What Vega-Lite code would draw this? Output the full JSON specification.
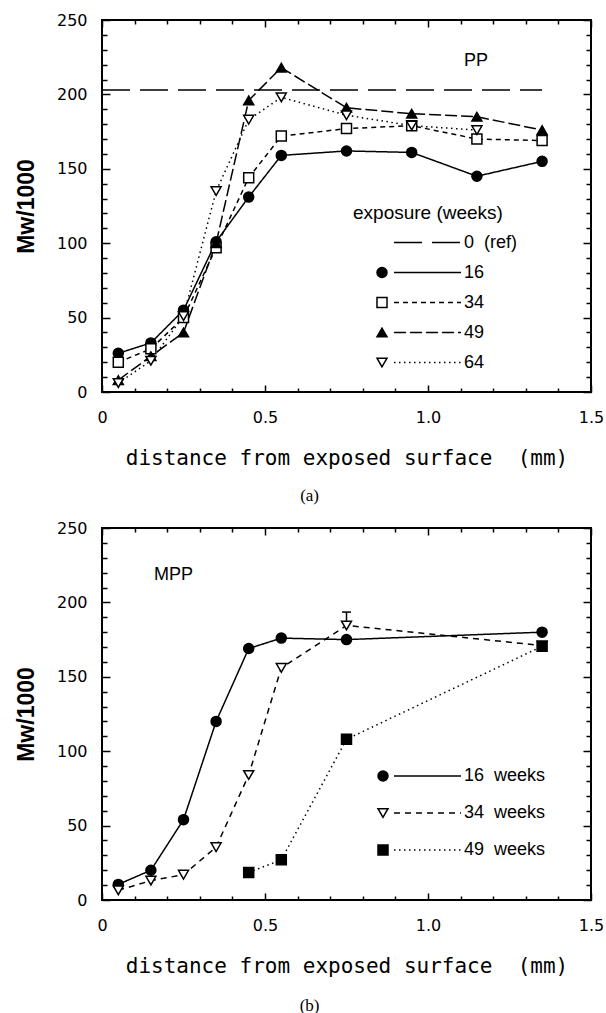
{
  "$schema": "https://vega.github.io/schema/vega-lite/v6.json",
  "padding": {"left": 14, "top": 11, "right": 0, "bottom": 0},
  "spacing": 15,
  "background": "white",
  "resolve": {"scale": {"shape": "independent", "fill": "independent", "strokeDash": "independent"}},
  "config": {
    "view": {"stroke": "black", "strokeWidth": 2},
    "axis": {"labelFont": "DejaVu Sans", "labelFontSize": 16, "labelColor": "black", "tickColor": "black", "tickWidth": 1.5, "domain": false, "grid": false, "titleColor": "black", "labelFlush": false, "labelOverlap": false, "labelBound": false},
    "legend": {"labelColor": "black", "titleColor": "black"},
    "line": {"color": "black", "strokeWidth": 1.5},
    "title": {"color": "black", "fontWeight": "normal"}
  },
  "datasets": {
    "a": [
      {"series": "0 (ref)", "x": 0, "y": 203},
      {"series": "0 (ref)", "x": 1.35, "y": 203},
      {"series": "16", "x": 0.05, "y": 26},
      {"series": "16", "x": 0.15, "y": 33},
      {"series": "16", "x": 0.25, "y": 55},
      {"series": "16", "x": 0.35, "y": 101},
      {"series": "16", "x": 0.45, "y": 131},
      {"series": "16", "x": 0.55, "y": 159},
      {"series": "16", "x": 0.75, "y": 162},
      {"series": "16", "x": 0.95, "y": 161},
      {"series": "16", "x": 1.15, "y": 145},
      {"series": "16", "x": 1.35, "y": 155},
      {"series": "34", "x": 0.05, "y": 20},
      {"series": "34", "x": 0.15, "y": 29},
      {"series": "34", "x": 0.25, "y": 50},
      {"series": "34", "x": 0.35, "y": 97},
      {"series": "34", "x": 0.45, "y": 144},
      {"series": "34", "x": 0.55, "y": 172},
      {"series": "34", "x": 0.75, "y": 177},
      {"series": "34", "x": 0.95, "y": 179},
      {"series": "34", "x": 1.15, "y": 170},
      {"series": "34", "x": 1.35, "y": 169},
      {"series": "49", "x": 0.05, "y": 8},
      {"series": "49", "x": 0.15, "y": 24},
      {"series": "49", "x": 0.25, "y": 40},
      {"series": "49", "x": 0.35, "y": 100},
      {"series": "49", "x": 0.45, "y": 196},
      {"series": "49", "x": 0.55, "y": 218},
      {"series": "49", "x": 0.75, "y": 191},
      {"series": "49", "x": 0.95, "y": 187},
      {"series": "49", "x": 1.15, "y": 185},
      {"series": "49", "x": 1.35, "y": 176},
      {"series": "64", "x": 0.05, "y": 6},
      {"series": "64", "x": 0.15, "y": 21},
      {"series": "64", "x": 0.25, "y": 51},
      {"series": "64", "x": 0.35, "y": 135},
      {"series": "64", "x": 0.45, "y": 183},
      {"series": "64", "x": 0.55, "y": 198},
      {"series": "64", "x": 0.75, "y": 186},
      {"series": "64", "x": 0.95, "y": 179},
      {"series": "64", "x": 1.15, "y": 176}
    ],
    "b": [
      {"series": "16 weeks", "x": 0.05, "y": 10.5},
      {"series": "16 weeks", "x": 0.15, "y": 20},
      {"series": "16 weeks", "x": 0.25, "y": 54},
      {"series": "16 weeks", "x": 0.35, "y": 120},
      {"series": "16 weeks", "x": 0.45, "y": 169},
      {"series": "16 weeks", "x": 0.55, "y": 176},
      {"series": "16 weeks", "x": 0.75, "y": 175},
      {"series": "16 weeks", "x": 1.35, "y": 180},
      {"series": "34 weeks", "x": 0.05, "y": 6.5},
      {"series": "34 weeks", "x": 0.15, "y": 13},
      {"series": "34 weeks", "x": 0.25, "y": 17},
      {"series": "34 weeks", "x": 0.35, "y": 35.5},
      {"series": "34 weeks", "x": 0.45, "y": 84},
      {"series": "34 weeks", "x": 0.55, "y": 156},
      {"series": "34 weeks", "x": 0.75, "y": 184.5},
      {"series": "34 weeks", "x": 1.35, "y": 171},
      {"series": "49 weeks", "x": 0.45, "y": 18.5},
      {"series": "49 weeks", "x": 0.55, "y": 27},
      {"series": "49 weeks", "x": 0.75, "y": 108},
      {"series": "49 weeks", "x": 1.35, "y": 170.5}
    ],
    "bErr": [
      {"series": "34 weeks", "x": 0.75, "lo": 184.5, "hi": 193.5}
    ]
  },
  "vconcat": [
    {
      "title": {"text": "(a)", "orient": "bottom", "anchor": "middle", "font": "Liberation Serif", "fontSize": 17, "fontWeight": "normal", "color": "black", "offset": 19},
      "vconcat": [
        {
          "width": 489,
          "height": 372,
          "title": {"text": "PP", "orient": "top", "anchor": "start", "frame": "group", "font": "Liberation Sans", "fontSize": 18, "fontWeight": "normal", "color": "black", "baseline": "middle", "offset": 0, "dx": 362, "dy": 67},
          "resolve": {"axis": {"x": "independent", "y": "independent"}},
          "layer": [
            {
              "data": {"name": "a"},
              "mark": {"type": "line", "color": "black", "strokeWidth": 1.5},
              "encoding": {
                "x": {"field": "x", "type": "quantitative", "scale": {"domain": [0, 1.5], "nice": false},
                  "axis": {"orient": "bottom", "values": [0, 0.5, 1.0, 1.5], "ticks": false,
                    "labelExpr": "datum.value<0.001 ? '0' : format(datum.value, '.1f')",
                    "labelPadding": 17,
                    "title": "distance from exposed surface\u00a0\u00a0(mm)", "titleFont": "DejaVu Sans Mono", "titleFontSize": 21, "titleFontWeight": "normal", "titlePadding": 22}},
                "y": {"field": "y", "type": "quantitative", "scale": {"domain": [0, 250], "nice": false},
                  "axis": {"orient": "left", "values": [0, 50, 100, 150, 200, 250], "ticks": false,
                    "labelPadding": 15,
                    "title": "Mw/1000", "titleFont": "Liberation Sans", "titleFontSize": 23, "titleFontWeight": "bold", "titlePadding": 18}},
                "strokeDash": {"field": "series", "type": "nominal",
                  "scale": {"range": [[28, 10], [1, 0], [5, 4], [12, 4], [1.5, 3.5]]},
                  "legend": {"orient": "none", "legendX": 283, "legendY": 213.5, "padding": 0, "title": null,
                    "symbolType": "M 0 0 H 13.4", "symbolSize": 100, "symbolStrokeColor": "black", "symbolStrokeWidth": 1.5, "symbolOpacity": 1,
                    "labelOffset": 61, "labelFont": "Liberation Sans", "labelFontSize": 18, "rowPadding": 12,
                    "labelExpr": "datum.label === '0 (ref)' ? '\u00a0\u00a0\u00a00\u00a0\u00a0(ref)' : datum.label"}}
              }
            },
            {
              "data": {"name": "a"},
              "transform": [{"filter": "datum.series !== '0 (ref)'"}],
              "mark": {"type": "point", "filled": true, "stroke": "black", "strokeWidth": 1.5, "size": 100, "opacity": 1},
              "encoding": {
                "x": {"field": "x", "type": "quantitative",
                  "axis": {"orient": "top", "offset": -372, "values": [0.1, 0.2, 0.3, 0.4, 0.6, 0.7, 0.8, 0.9, 1.1, 1.2, 1.3, 1.4], "tickSize": 4, "tickColor": "black", "labels": false, "title": null}},
                "y": {"field": "y", "type": "quantitative",
                  "axis": {"orient": "right", "offset": -489, "values": [10, 20, 30, 40, 60, 70, 80, 90, 110, 120, 130, 140, 160, 170, 180, 190, 210, 220, 230, 240], "tickSize": 5, "tickColor": "black", "labels": false, "title": null}},
                "shape": {"field": "series", "type": "nominal",
                  "scale": {"domain": ["0 (ref)", "16", "34", "49", "64"], "range": ["M 0 0", "circle", "square", "triangle-up", "triangle-down"]},
                  "legend": {"orient": "none", "legendX": 251, "legendY": 183.5, "padding": 0, "title": "exposure (weeks)", "titleFont": "Liberation Sans", "titleFontSize": 19, "titleFontWeight": "normal", "titlePadding": 11,
                    "symbolOffset": 20, "symbolSize": 100, "symbolStrokeColor": "black", "symbolStrokeWidth": 1.5, "symbolOpacity": 1,
                    "labelExpr": "''", "labelFontSize": 18, "rowPadding": 12,
                    "encode": {"symbols": {"update": {"stroke": {"value": "black"}, "strokeWidth": {"value": 1.5}}}}}},
                "fill": {"field": "series", "type": "nominal",
                  "scale": {"domain": ["0 (ref)", "16", "34", "49", "64"], "range": ["white", "black", "white", "black", "white"]},
                  "legend": {"orient": "none", "legendX": 251, "legendY": 183.5, "padding": 0, "title": "exposure (weeks)", "titleFont": "Liberation Sans", "titleFontSize": 19, "titleFontWeight": "normal", "titlePadding": 11,
                    "symbolOffset": 20, "symbolSize": 100, "symbolStrokeColor": "black", "symbolStrokeWidth": 1.5, "symbolOpacity": 1,
                    "labelExpr": "''", "labelFontSize": 18, "rowPadding": 12,
                    "encode": {"symbols": {"update": {"stroke": {"value": "black"}, "strokeWidth": {"value": 1.5}}}}}}
              }
            },
            {
              "data": {"name": "a"},
              "transform": [{"filter": "false"}],
              "mark": {"type": "point", "opacity": 0},
              "encoding": {
                "x": {"field": "x", "type": "quantitative",
                  "axis": {"orient": "top", "offset": -372, "values": [0, 0.5, 1.0, 1.5], "tickSize": 7, "tickColor": "black", "labels": false, "title": null}},
                "y": {"field": "y", "type": "quantitative",
                  "axis": {"orient": "right", "offset": -489, "values": [0, 50, 100, 150, 200, 250], "tickSize": 8, "tickColor": "black", "labels": false, "title": null}}
              }
            },
            {
              "data": {"name": "a"},
              "transform": [{"filter": "false"}],
              "mark": {"type": "point", "opacity": 0},
              "encoding": {
                "x": {"field": "x", "type": "quantitative",
                  "axis": {"orient": "bottom", "offset": -372, "values": [0.1, 0.2, 0.3, 0.4, 0.6, 0.7, 0.8, 0.9, 1.1, 1.2, 1.3, 1.4], "tickSize": 4, "tickColor": "black", "labels": false, "title": null}},
                "y": {"field": "y", "type": "quantitative",
                  "axis": {"orient": "left", "offset": -489, "values": [10, 20, 30, 40, 60, 70, 80, 90, 110, 120, 130, 140, 160, 170, 180, 190, 210, 220, 230, 240], "tickSize": 5, "tickColor": "black", "labels": false, "title": null}}
              }
            },
            {
              "data": {"name": "a"},
              "transform": [{"filter": "false"}],
              "mark": {"type": "point", "opacity": 0},
              "encoding": {
                "x": {"field": "x", "type": "quantitative",
                  "axis": {"orient": "bottom", "offset": -372, "values": [0, 0.5, 1.0, 1.5], "tickSize": 7, "tickColor": "black", "labels": false, "title": null}},
                "y": {"field": "y", "type": "quantitative",
                  "axis": {"orient": "left", "offset": -489, "values": [0, 50, 100, 150, 200, 250], "tickSize": 8, "tickColor": "black", "labels": false, "title": null}}
              }
            }
          ]
        }
      ]
    },
    {
      "title": {"text": "(b)", "orient": "bottom", "anchor": "middle", "font": "Liberation Serif", "fontSize": 17, "fontWeight": "normal", "color": "black", "offset": 21},
      "vconcat": [
        {
          "width": 489,
          "height": 372,
          "title": {"text": "MPP", "orient": "top", "anchor": "start", "frame": "group", "font": "Liberation Sans", "fontSize": 18, "fontWeight": "normal", "color": "black", "baseline": "middle", "offset": 0, "dx": 52, "dy": 73},
          "resolve": {"axis": {"x": "independent", "y": "independent"}},
          "layer": [
            {
              "data": {"name": "b"},
              "mark": {"type": "line", "color": "black", "strokeWidth": 1.5},
              "encoding": {
                "x": {"field": "x", "type": "quantitative", "scale": {"domain": [0, 1.5], "nice": false},
                  "axis": {"orient": "bottom", "values": [0, 0.5, 1.0, 1.5], "ticks": false,
                    "labelExpr": "datum.value<0.001 ? '0' : format(datum.value, '.1f')",
                    "labelPadding": 17,
                    "title": "distance from exposed surface\u00a0\u00a0(mm)", "titleFont": "DejaVu Sans Mono", "titleFontSize": 21, "titleFontWeight": "normal", "titlePadding": 22}},
                "y": {"field": "y", "type": "quantitative", "scale": {"domain": [0, 250], "nice": false},
                  "axis": {"orient": "left", "values": [0, 50, 100, 150, 200, 250], "ticks": false,
                    "labelPadding": 15,
                    "title": "Mw/1000", "titleFont": "Liberation Sans", "titleFontSize": 23, "titleFontWeight": "bold", "titlePadding": 18}},
                "strokeDash": {"field": "series", "type": "nominal",
                  "scale": {"range": [[1, 0], [6, 5], [1.5, 3.5]]},
                  "legend": {"orient": "none", "legendX": 283, "legendY": 239, "padding": 0, "title": null,
                    "symbolType": "M 0 0 H 13.4", "symbolSize": 100, "symbolStrokeColor": "black", "symbolStrokeWidth": 1.5, "symbolOpacity": 1,
                    "labelOffset": 61, "labelFont": "Liberation Sans", "labelFontSize": 18, "rowPadding": 19,
                    "labelExpr": "replace(datum.label, ' ', '\u00a0\u00a0')"}}
              }
            },
            {
              "data": {"name": "bErr"},
              "mark": {"type": "rule", "color": "black", "strokeWidth": 1.5},
              "encoding": {
                "x": {"field": "x", "type": "quantitative", "axis": null},
                "y": {"field": "lo", "type": "quantitative", "axis": null},
                "y2": {"field": "hi"}
              }
            },
            {
              "data": {"name": "bErr"},
              "mark": {"type": "tick", "orient": "horizontal", "color": "black", "thickness": 1.5, "size": 9, "opacity": 1},
              "encoding": {
                "x": {"field": "x", "type": "quantitative", "axis": null},
                "y": {"field": "hi", "type": "quantitative", "axis": null}
              }
            },
            {
              "data": {"name": "b"},
              "mark": {"type": "point", "filled": true, "stroke": "black", "strokeWidth": 1.5, "size": 100, "opacity": 1},
              "encoding": {
                "x": {"field": "x", "type": "quantitative",
                  "axis": {"orient": "top", "offset": -372, "values": [0.1, 0.2, 0.3, 0.4, 0.6, 0.7, 0.8, 0.9, 1.1, 1.2, 1.3, 1.4], "tickSize": 4, "tickColor": "black", "labels": false, "title": null}},
                "y": {"field": "y", "type": "quantitative",
                  "axis": {"orient": "right", "offset": -489, "values": [10, 20, 30, 40, 60, 70, 80, 90, 110, 120, 130, 140, 160, 170, 180, 190, 210, 220, 230, 240], "tickSize": 5, "tickColor": "black", "labels": false, "title": null}},
                "shape": {"field": "series", "type": "nominal",
                  "scale": {"domain": ["16 weeks", "34 weeks", "49 weeks"], "range": ["circle", "triangle-down", "square"]},
                  "legend": {"orient": "none", "legendX": 272, "legendY": 239, "padding": 0, "title": null,
                    "symbolSize": 100, "symbolStrokeColor": "black", "symbolStrokeWidth": 1.5, "symbolOpacity": 1,
                    "labelExpr": "''", "labelFontSize": 18, "rowPadding": 19,
                    "encode": {"symbols": {"update": {"stroke": {"value": "black"}, "strokeWidth": {"value": 1.5}}}}}},
                "fill": {"field": "series", "type": "nominal",
                  "scale": {"domain": ["16 weeks", "34 weeks", "49 weeks"], "range": ["black", "white", "black"]},
                  "legend": {"orient": "none", "legendX": 272, "legendY": 239, "padding": 0, "title": null,
                    "symbolSize": 100, "symbolStrokeColor": "black", "symbolStrokeWidth": 1.5, "symbolOpacity": 1,
                    "labelExpr": "''", "labelFontSize": 18, "rowPadding": 19,
                    "encode": {"symbols": {"update": {"stroke": {"value": "black"}, "strokeWidth": {"value": 1.5}}}}}}
              }
            },
            {
              "data": {"name": "b"},
              "transform": [{"filter": "false"}],
              "mark": {"type": "point", "opacity": 0},
              "encoding": {
                "x": {"field": "x", "type": "quantitative",
                  "axis": {"orient": "top", "offset": -372, "values": [0, 0.5, 1.0, 1.5], "tickSize": 7, "tickColor": "black", "labels": false, "title": null}},
                "y": {"field": "y", "type": "quantitative",
                  "axis": {"orient": "right", "offset": -489, "values": [0, 50, 100, 150, 200, 250], "tickSize": 8, "tickColor": "black", "labels": false, "title": null}}
              }
            },
            {
              "data": {"name": "b"},
              "transform": [{"filter": "false"}],
              "mark": {"type": "point", "opacity": 0},
              "encoding": {
                "x": {"field": "x", "type": "quantitative",
                  "axis": {"orient": "bottom", "offset": -372, "values": [0.1, 0.2, 0.3, 0.4, 0.6, 0.7, 0.8, 0.9, 1.1, 1.2, 1.3, 1.4], "tickSize": 4, "tickColor": "black", "labels": false, "title": null}},
                "y": {"field": "y", "type": "quantitative",
                  "axis": {"orient": "left", "offset": -489, "values": [10, 20, 30, 40, 60, 70, 80, 90, 110, 120, 130, 140, 160, 170, 180, 190, 210, 220, 230, 240], "tickSize": 5, "tickColor": "black", "labels": false, "title": null}}
              }
            },
            {
              "data": {"name": "b"},
              "transform": [{"filter": "false"}],
              "mark": {"type": "point", "opacity": 0},
              "encoding": {
                "x": {"field": "x", "type": "quantitative",
                  "axis": {"orient": "bottom", "offset": -372, "values": [0, 0.5, 1.0, 1.5], "tickSize": 7, "tickColor": "black", "labels": false, "title": null}},
                "y": {"field": "y", "type": "quantitative",
                  "axis": {"orient": "left", "offset": -489, "values": [0, 50, 100, 150, 200, 250], "tickSize": 8, "tickColor": "black", "labels": false, "title": null}}
              }
            }
          ]
        }
      ]
    }
  ]
}
